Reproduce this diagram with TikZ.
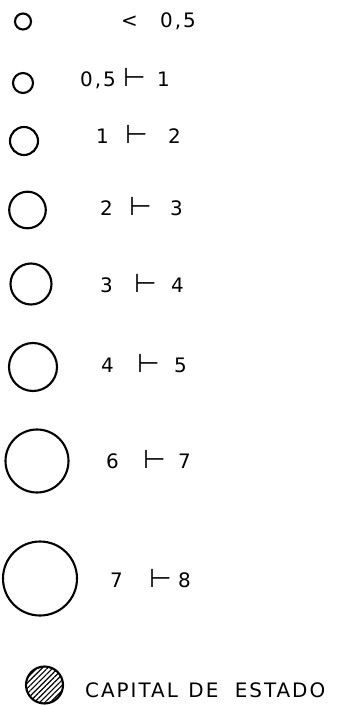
\documentclass[tikz,border=0pt]{standalone}
\usepackage{fontspec}
\newfontfamily\legenda[LetterSpace=10]{DejaVu Sans}
\usetikzlibrary{patterns.meta}
\tikzset{
    classe/.style={draw, circle, line width=1.8pt, inner sep=0pt, outer sep=0pt},
    rotulo/.style={font=\legenda\fontsize{17}{20}\selectfont, inner sep=0pt,
                   anchor=base west},
    hachura/.style={pattern={Lines[angle=45, distance=3.2pt, line width=1pt]}},
}
\newcommand{\fecha}{\scalebox{1.3}{⊢}}

\begin{document}
\begin{tikzpicture}[x=0.03cm, y=-0.03cm]
\useasboundingbox (0,0) rectangle (337,705);

% primeira classe: menor que 0,5
\node[classe, minimum size={16*0.03cm}] (c1) at (23,21.5) {};
\node[rotulo] (s1) at (121,28) {<};
\node[rotulo] (b1) at (160,28) {0,5};

% demais classes: circulo, limite inferior, simbolo, limite superior
\foreach \i/\cx/\cy/\r/\base/\xa/\a/\xs/\xb/\b in {
    2/23/83/10/87/80/{0,5}/123/157/1,
    3/24/141/14/143/96/1/125/168/2,
    4/27.5/210/18.3/215/100/2/129/170/3,
    5/31/284/20.5/292/100/3/134/171/4,
    6/33/367/24/372/101/4/137/174/5,
    7/37/461/31.5/468/106/6/143/178/7,
    8/40/578.5/37/587/110/7/149/178/8}{
  \node[classe, minimum size={2*\r*0.03cm}] (c\i) at (\cx,\cy) {};
  \node[rotulo] (a\i) at (\xa,\base) {\a};
  \node[rotulo] (s\i) at (\xs,\base) {\fecha};
  \node[rotulo] (b\i) at (\xb,\base) {\b};
}

% capital de estado
\node[classe, hachura, minimum size={37*0.03cm}] (cap) at (44.5,685) {};
\node[rotulo] (tcap) at (85,697) {CAPITAL\hspace{9pt}DE\hspace{14pt}ESTADO};

\end{tikzpicture}
\end{document}
